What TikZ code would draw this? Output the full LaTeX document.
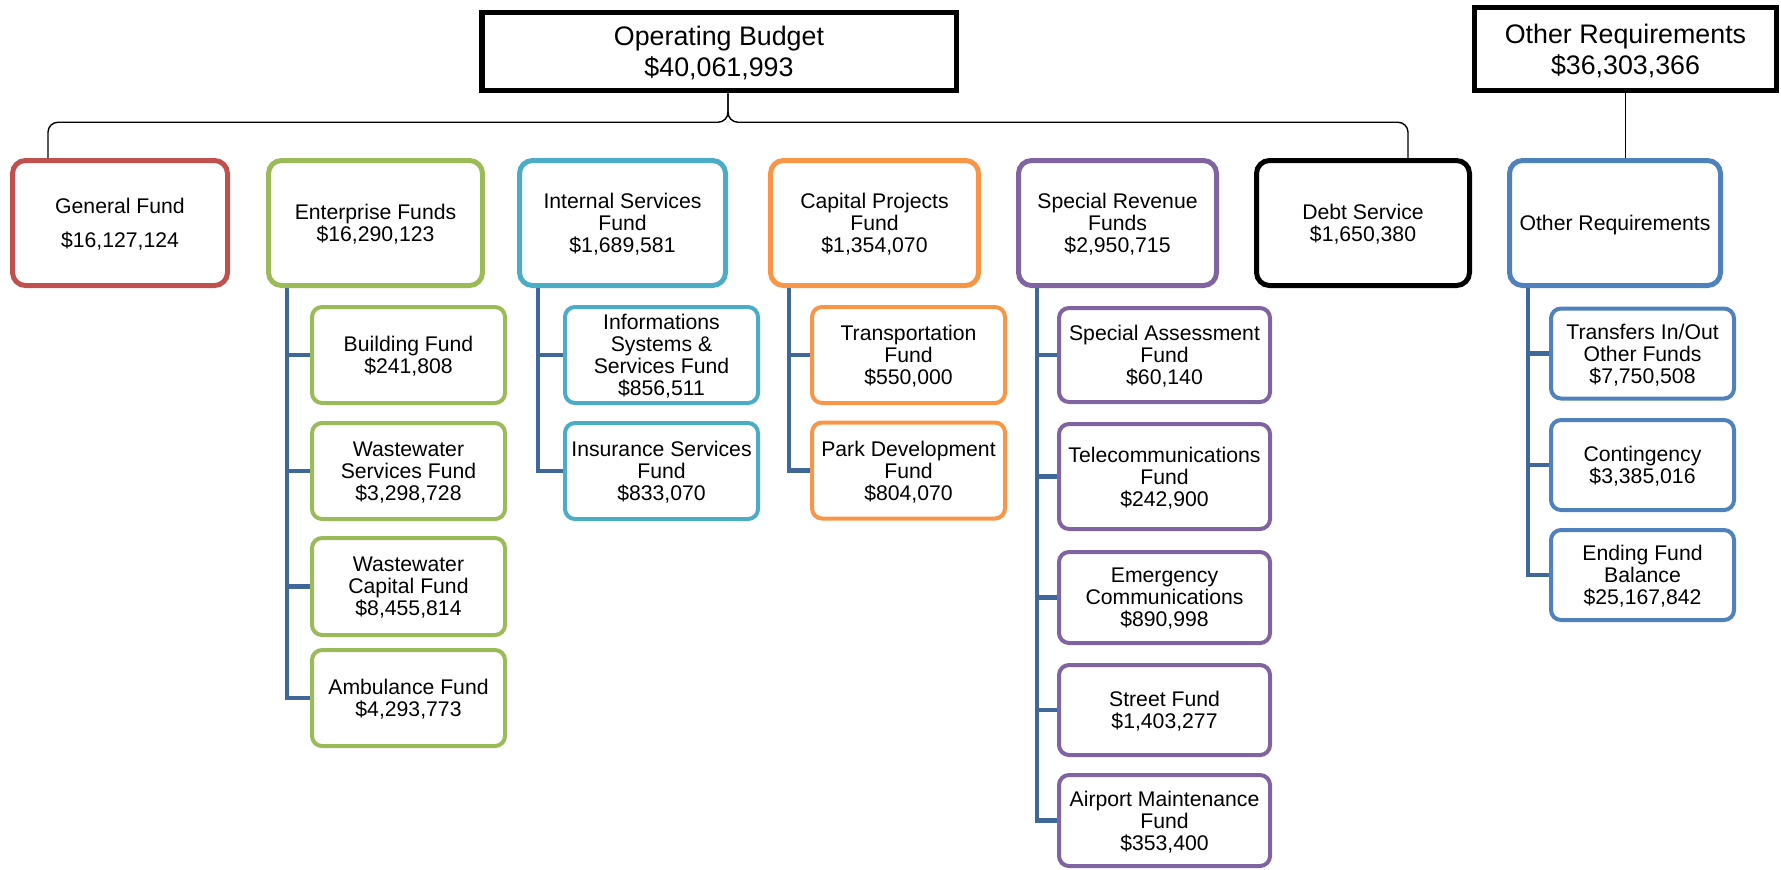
\documentclass[tikz,border=0pt]{standalone}
\usepackage{fontspec}
\setmainfont{Liberation Sans}
\usetikzlibrary{positioning}

\definecolor{genred}{HTML}{C0504D}
\definecolor{entgreen}{HTML}{9BBB59}
\definecolor{intaqua}{HTML}{4BACC6}
\definecolor{caporange}{HTML}{F79646}
\definecolor{sprpurple}{HTML}{8064A2}
\definecolor{othblue}{HTML}{4F81BD}
\definecolor{linkblue}{HTML}{3F6797}

\tikzset{
  link/.style={linkblue, line width=2.3pt},
  brace/.style={black, line width=0.7pt, rounded corners=5pt}
}

\begin{document}
\begin{tikzpicture}[x=0.5pt, y=-0.5pt]
\useasboundingbox (0,0) rectangle (1781,869);

% budget totals
\begin{scope}[every node/.style={draw, line width=2.75pt, align=center, inner sep=0pt,
    text depth=0pt, font=\fontsize{13.4}{15.5}\selectfont}]
   \node[minimum width=237.25pt, minimum height=39pt] (op) at (719,51.5) {Operating Budget\\\$40,061,993};
   \node[minimum width=151pt, minimum height=41.5pt] (othtop) at (1625.5,49) {Other Requirements\\\$36,303,366};
\end{scope}

% fund groups
\begin{scope}[every node/.style={draw, line width=2.5pt, rounded corners=6.5pt, align=center,
    inner sep=0pt, text depth=0pt, minimum height=62.5pt, font=\fontsize{10.6}{11}\selectfont}]
   \node[genred, text=black, minimum width=107.5pt] (gen) at (120,223) {General Fund\\[6pt]\$16,127,124};
   \node[entgreen, text=black, minimum width=107pt] (ent) at (375.5,223) {Enterprise Funds\\\$16,290,123};
   \node[intaqua, text=black, minimum width=103pt] (int) at (622.5,223) {Internal Services\\Fund\\\$1,689,581};
   \node[caporange, text=black, minimum width=104pt] (cap) at (874.5,223) {Capital Projects\\Fund\\\$1,354,070};
   \node[sprpurple, text=black, minimum width=99pt] (spr) at (1117.5,223) {Special Revenue\\Funds\\\$2,950,715};
   \node[black, minimum width=106.5pt] (debt) at (1363,223) {Debt Service\\\$1,650,380};
   \node[othblue, text=black, minimum width=105.5pt] (oth) at (1615,223) {Other Requirements};
\end{scope}

% single funds
\begin{scope}[every node/.style={draw, line width=2pt, rounded corners=5pt, align=center,
    inner sep=0pt, text depth=0pt, minimum height=48pt, font=\fontsize{10.6}{11}\selectfont}]
   \begin{scope}[every node/.append style={entgreen, text=black, minimum width=96.5pt}]
      \node (bld) at (408.5,355) {Building Fund\\\$241,808};
      \node (wws) at (408.5,471) {Wastewater\\Services Fund\\\$3,298,728};
      \node[minimum height=48.5pt] (wwc) at (408.5,586.5) {Wastewater\\Capital Fund\\\$8,455,814};
      \node (amb) at (408.5,698) {Ambulance Fund\\\$4,293,773};
   \end{scope}
   \begin{scope}[every node/.append style={intaqua, text=black, minimum width=96.5pt}]
      \node (iss) at (661.5,355) {Informations\\Systems \&\\Services Fund\\\$856,511};
      \node (ins) at (661.5,471) {Insurance Services\\Fund\\\$833,070};
   \end{scope}
   \begin{scope}[every node/.append style={caporange, text=black, minimum width=96.5pt}]
      \node (trn) at (908.5,355) {Transportation\\Fund\\\$550,000};
      \node (prk) at (908.5,470.5) {Park Development\\Fund\\\$804,070};
   \end{scope}
   \begin{scope}[every node/.append style={sprpurple, text=black, minimum width=105.5pt}]
      \node[minimum height=47pt] (sas) at (1164.5,355) {Special Assessment\\Fund\\\$60,140};
      \node[minimum height=52.5pt] (tel) at (1164.5,476.5) {Telecommunications\\Fund\\\$242,900};
      \node[minimum height=45.5pt] (emc) at (1164.5,597.5) {Emergency\\Communications\\\$890,998};
      \node[minimum height=45pt] (str) at (1164.5,710) {Street Fund\\\$1,403,277};
      \node[minimum height=45.5pt] (apt) at (1164.5,820.5) {Airport Maintenance\\Fund\\\$353,400};
   \end{scope}
   \begin{scope}[every node/.append style={othblue, text=black, minimum width=91.5pt, minimum height=45pt}]
      \node (tio) at (1642.5,353.5) {Transfers In/Out\\Other Funds\\\$7,750,508};
      \node (con) at (1642.5,465) {Contingency\\\$3,385,016};
      \node (efb) at (1642.5,575) {Ending Fund\\Balance\\\$25,167,842};
   \end{scope}
\end{scope}

% brace under the operating budget
\coordinate (tip) at ([xshift=4.5pt]op.south);
\coordinate (mid) at ([yshift=-14.5pt]tip);
\coordinate (bl) at ([xshift=19pt]gen.north west);
\coordinate (br) at ([xshift=22.5pt]debt.north);
\draw[brace] (bl) |- (mid) -- (tip);
\draw[brace] (tip) -- (mid) -| (br);
\draw[black, line width=0.7pt] (othtop.south) -- (othtop.south |- oth.north);

% tree lines to the single funds
\foreach \p/\c in {ent/bld, ent/wws, ent/wwc, ent/amb, int/iss, int/ins, cap/trn, cap/prk,
    spr/sas, spr/tel, spr/emc, spr/str, spr/apt, oth/tio, oth/con, oth/efb}
   \draw[link] ([xshift=10.5pt]\p.south west) |- (\c.west);
\end{tikzpicture}
\end{document}
